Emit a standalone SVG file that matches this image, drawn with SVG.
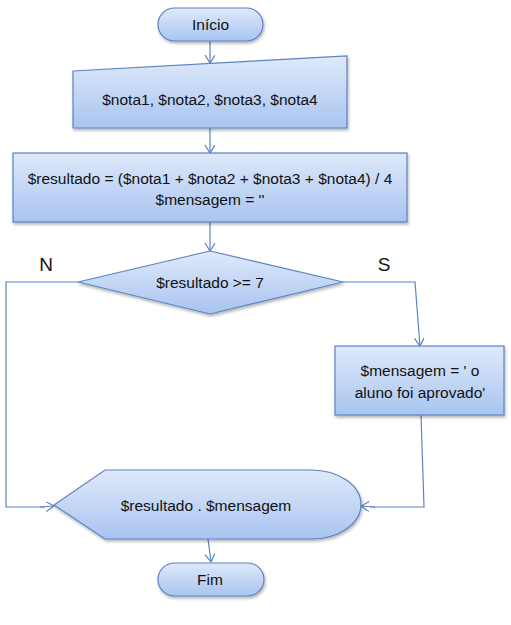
<svg xmlns="http://www.w3.org/2000/svg" width="511" height="625" viewBox="0 0 511 625">
<style>
.shape{fill:url(#g);stroke:#5a84c2;stroke-width:1.2;filter:url(#sh)}
.t{font-family:"Liberation Sans",Arial,sans-serif;font-size:15.5px;fill:#111;text-anchor:middle}
.lbl{font-family:"Liberation Sans",Arial,sans-serif;font-size:19px;fill:#111;text-anchor:middle}
.c{fill:none;stroke:#5a84c2;stroke-width:1.2;marker-end:url(#a)}
.cn{fill:none;stroke:#5a84c2;stroke-width:1.2}
</style>
<defs>
<linearGradient id="g" x1="0" y1="0" x2="0" y2="1">
<stop offset="0" stop-color="#dfe9fa"/>
<stop offset="1" stop-color="#a8c4f0"/>
</linearGradient>
<filter id="sh" x="-10%" y="-10%" width="130%" height="140%">
<feDropShadow dx="1" dy="2" stdDeviation="1.5" flood-color="#000" flood-opacity="0.3"/>
</filter>
<marker id="a" markerWidth="12" markerHeight="12" refX="9" refY="5" orient="auto" markerUnits="userSpaceOnUse">
<path d="M1,0 L9,5 L1,10" fill="none" stroke="#5a84c2" stroke-width="1.2"/>
</marker>
</defs>
<g id="connectors">
<path class="c" d="M210,41 V63"/>
<path class="c" d="M210,128 V153"/>
<path class="c" d="M210,222 V251"/>
<path class="cn" d="M78,282 H6 V507 H45"/>
<path class="c" d="M40,507 L54,506"/>
<path class="c" d="M343,282 H415 L420,346"/>
<path class="cn" d="M421,415 L424,507 H370"/>
<path class="c" d="M375,507 L361,506"/>
<path class="c" d="M208,539 L211,562"/>
</g>
<g id="inicio">
<rect class="shape" x="158" y="8" width="105" height="33" rx="16.5"/>
<text class="t" x="210.5" y="30">Início</text>
</g>
<g id="entrada">
<path class="shape" d="M73,71 L347,56 V128 H73 Z"/>
<text class="t" x="210" y="105">$nota1, $nota2, $nota3, $nota4</text>
</g>
<g id="processo">
<rect class="shape" x="13" y="153" width="394" height="69"/>
<text class="t" x="210" y="184">$resultado = ($nota1 + $nota2 + $nota3 + $nota4) / 4</text>
<text class="t" x="210" y="205">$mensagem = ''</text>
</g>
<g id="decisao">
<path class="shape" d="M210,251 L343,282 L210,314 L78,282 Z"/>
<text class="t" x="210" y="288">$resultado &gt;= 7</text>
</g>
<text class="lbl" x="46" y="271">N</text>
<text class="lbl" x="384" y="271">S</text>
<g id="aprovado">
<rect class="shape" x="335" y="346" width="169" height="69"/>
<text class="t" x="420" y="376">$mensagem = ' o</text>
<text class="t" x="420" y="398">aluno foi aprovado'</text>
</g>
<g id="saida">
<path class="shape" d="M54,505 L105,470 H311 A50,34.5 0 0 1 311,539 H105 Z"/>
<text class="t" x="206" y="511">$resultado . $mensagem</text>
</g>
<g id="fim">
<rect class="shape" x="158" y="563" width="106" height="33" rx="16.5"/>
<text class="t" x="210" y="585">Fim</text>
</g>
</svg>
